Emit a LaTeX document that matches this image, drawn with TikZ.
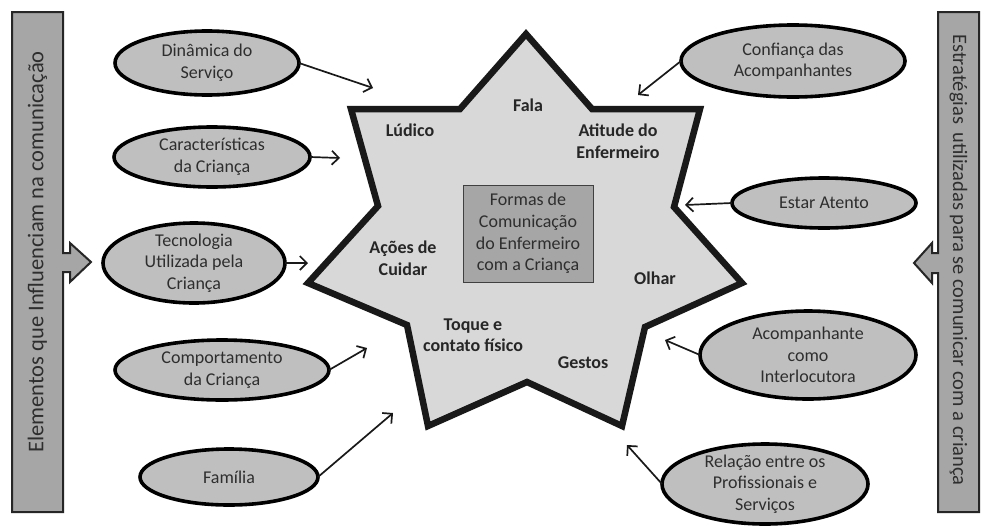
\documentclass[tikz,border=0pt]{standalone}
\usepackage{fontspec}
\setmainfont{Carlito}
\usetikzlibrary{shapes.geometric,arrows.meta}
\definecolor{starfill}{HTML}{D8D8D8}
\definecolor{ellfill}{HTML}{BFBFBF}
\definecolor{boxfill}{HTML}{A6A6A6}
\definecolor{barfill}{HTML}{A6A6A6}
\definecolor{txt}{HTML}{2E2E2E}
\definecolor{lbltxt}{HTML}{262626}
\begin{document}
\begin{tikzpicture}[x=1pt,y=-1pt,
  ell/.style={ellipse, draw=black, line width=3.6pt, fill=ellfill, inner sep=-1.5pt,
    outer sep=0pt, text=txt, align=center, font=\fontsize{18}{21.5}\selectfont},
  lbl/.style={font=\bfseries\fontsize{18}{21.5}\selectfont, text=lbltxt, align=center, inner sep=0pt},
  conn/.style={-{Straight Barb[length=7pt,width=14pt]}, line width=1.7pt, draw=black!90},
  starline/.style={draw=black!90, line width=6.5pt, line join=miter, fill=starfill},
  barshape/.style={draw=black!85, line width=2pt, fill=barfill, line join=miter},
  bartext/.style={text=txt, inner sep=0pt}]
\useasboundingbox (0,0) rectangle (984,525);
\fill[white] (0,0) rectangle (984,525);

% side bars
\draw[barshape] (12,12) -- (63,12) -- (63,253) -- (70,253) -- (70,243) -- (91,262)
  -- (70,282) -- (70,272) -- (63,272) -- (63,512) -- (12,512) -- cycle;
\node[bartext, rotate=90, font=\fontsize{22.5}{26}\selectfont] (lbar) at (37.5,252) {Elementos que Influenciam na comunicação};
\draw[barshape] (979,12) -- (938,12) -- (938,253) -- (932,253) -- (932,243) -- (914,263)
  -- (932,283) -- (932,273) -- (938,273) -- (938,512) -- (979,512) -- cycle;
\node[bartext, rotate=-90, font=\fontsize{20.5}{25}\selectfont] (rbar) at (958.5,260) {Estratégias\, utilizadas para se comunicar com a criança};

% star
\coordinate (o1) at (526,34);
\coordinate (i1) at (592,109);
\coordinate (o2) at (700,109);
\coordinate (i2) at (674,207);
\coordinate (o3) at (742,283);
\coordinate (i3) at (645,327);
\coordinate (o4) at (622,426);
\coordinate (i4) at (527,382);
\coordinate (o5) at (428,426);
\coordinate (i5) at (407,325);
\coordinate (o6) at (308,283);
\coordinate (i6) at (378,206);
\coordinate (o7) at (351,109);
\coordinate (i7) at (460,109);
\draw[starline] (o1) -- (i1) -- (o2) -- (i2) -- (o3) -- (i3) -- (o4) -- (i4)
  -- (o5) -- (i5) -- (o6) -- (i6) -- (o7) -- (i7) -- cycle;

% center box
\node[draw=black!75, line width=1pt, fill=boxfill, minimum width=130pt, minimum height=97pt,
  align=center, text=txt, font=\fontsize{18}{21.7}\selectfont, inner sep=0pt] (core) at (528,233.5)
  {Formas de\\Comunicação\\do Enfermeiro\\com a Criança};

% star labels
\node[lbl] (fala) at (528,105) {Fala};
\node[lbl] (ludico) at (410,130) {Lúdico};
\node[lbl] (atitude) at (618,141) {Atitude do\\Enfermeiro};
\node[lbl] (acoes) at (403,258) {Ações de\\Cuidar};
\node[lbl] (olhar) at (655,278) {Olhar};
\node[lbl] (toque) at (473,335) {Toque e\\contato físico};
\node[lbl] (gestos) at (583,363) {Gestos};

% left ellipses
\node[ell, minimum width=184pt, minimum height=64pt] (din) at (207,63) {Dinâmica do\\Serviço};
\node[ell, minimum width=196pt, minimum height=60pt] (car) at (212,157) {Características\\da Criança};
\node[ell, minimum width=182pt, minimum height=80pt] (tec) at (194,263) {Tecnologia\\Utilizada pela\\Criança};
\node[ell, minimum width=214pt, minimum height=60pt] (com) at (222,370) {Comportamento\\da Criança};
\node[ell, minimum width=178pt, minimum height=56pt] (fam) at (229,477) {Família};

% right ellipses
\node[ell, minimum width=224pt, minimum height=72pt] (conf) at (793,61) {Confiança das\\Acompanhantes};
\node[ell, minimum width=184pt, minimum height=50pt] (estar) at (824,203) {Estar Atento};
\node[ell, minimum width=216pt, minimum height=88pt] (acomp) at (808,355) {Acompanhante\\como\\Interlocutora};
\node[ell, minimum width=206pt, minimum height=80pt] (rel) at (765,484) {Relação entre os\\Profissionais e\\Serviços};

% arrow targets
\coordinate (tdin) at (373,88);
\coordinate (tcar) at (340,158);
\coordinate (ttec) at (308,263);
\coordinate (tcom) at (367,348);
\coordinate (tfam) at (393,413);
\coordinate (tconf) at (638,95);
\coordinate (testar) at (685,205);
\coordinate (tacomp) at (665,340);
\coordinate (trel) at (627,445);

\draw[conn] (din.east) -- (tdin);
\draw[conn] (car.east) -- (tcar);
\draw[conn] (tec.east) -- (ttec);
\draw[conn] (com.east) -- (tcom);
\draw[conn] (fam.east) -- (tfam);
\draw[conn] (conf.west) -- (tconf);
\draw[conn] (estar.west) -- (testar);
\draw[conn] (acomp.west) -- (tacomp);
\draw[conn] (rel.west) -- (trel);
\end{tikzpicture}
\end{document}
